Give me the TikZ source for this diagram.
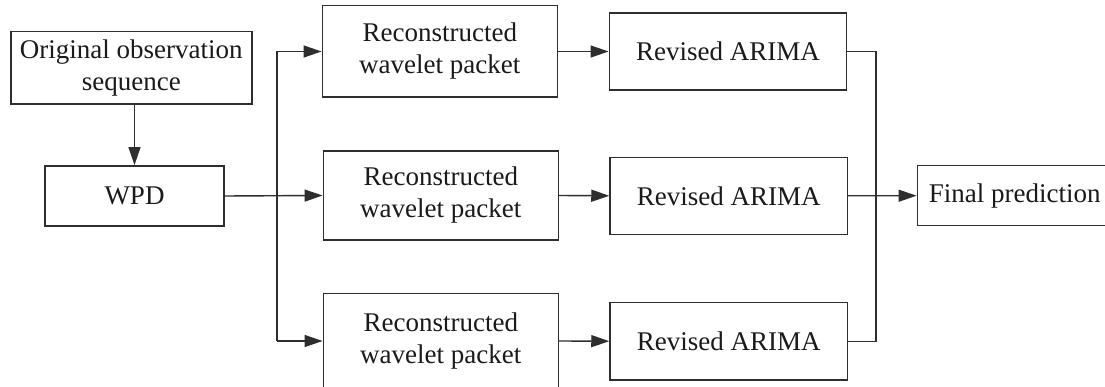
\documentclass[tikz,border=0pt]{standalone}
\usepackage{fontspec}
\setmainfont{Liberation Serif}
\usetikzlibrary{arrows.meta,calc}

\definecolor{lineclr}{HTML}{2E2E2E}
\definecolor{textclr}{HTML}{1A1A1A}

\tikzset{
  block/.style={draw=lineclr, line width=1.5pt, fill=white, inner sep=0pt,
    align=center, text=textclr, font=\fontsize{27}{32}\selectfont},
  flow/.style={draw=lineclr, line width=1.4pt},
  arr/.style={flow, -{Triangle[length=18pt,width=12pt]}}
}

\begin{document}
\begin{tikzpicture}[x=1pt,y=-1pt]
  \useasboundingbox[fill=white] (0,0) rectangle (1105,387);

  % input and decomposition
  \node[block, minimum width=241pt, minimum height=72.5pt] (orig) at (131.3,68)
    {Original observation\\sequence};
  \node[block, minimum width=179pt, minimum height=60.3pt] (wpd) at (134.5,196) {WPD};

  % reconstructed wavelet packets
  \node[block, minimum width=235pt, minimum height=91.5pt] (rec1) at (439.8,51.5)
    {Reconstructed\\wavelet packet};
  \node[block, minimum width=235pt, minimum height=89pt] (rec2) at (440.8,195.5)
    {Reconstructed\\wavelet packet};
  \node[block, minimum width=235pt, minimum height=95pt] (rec3) at (440.8,341)
    {Reconstructed\\wavelet packet};

  % revised ARIMA models
  \node[block, minimum width=237.4pt, minimum height=77.3pt] (ari1) at (728,51.5) {Revised ARIMA};
  \node[block, minimum width=237.4pt, minimum height=77pt] (ari2) at (728.7,195.8) {Revised ARIMA};
  \node[block, minimum width=237.4pt, minimum height=77.7pt] (ari3) at (728.7,341.2) {Revised ARIMA};

  % combined output
  \node[block, minimum width=195pt, minimum height=60pt] (final) at (1014.8,195.7)
    {Final prediction};

  % junction points
  \coordinate (br) at (277,196);
  \coordinate (mg) at (876,196);

  % connectors
  \draw[arr] (wpd.north |- orig.south) -- (wpd.north);
  \draw[arr] (wpd.east) -- (rec2.west);
  \draw[flow] (br |- rec1.west) -- (br |- rec3.west);
  \draw[arr] (br |- rec1.west) -- (rec1.west);
  \draw[arr] (br |- rec3.west) -- (rec3.west);

  \draw[arr] (rec1.east) -- (ari1.west);
  \draw[arr] (rec2.east) -- (ari2.west);
  \draw[arr] (rec3.east) -- (ari3.west);

  \draw[flow] (ari1.east) -- (mg |- ari1.east) -- (mg |- ari3.east) -- (ari3.east);
  \draw[arr] (ari2.east) -- (final.west);
\end{tikzpicture}
\end{document}
